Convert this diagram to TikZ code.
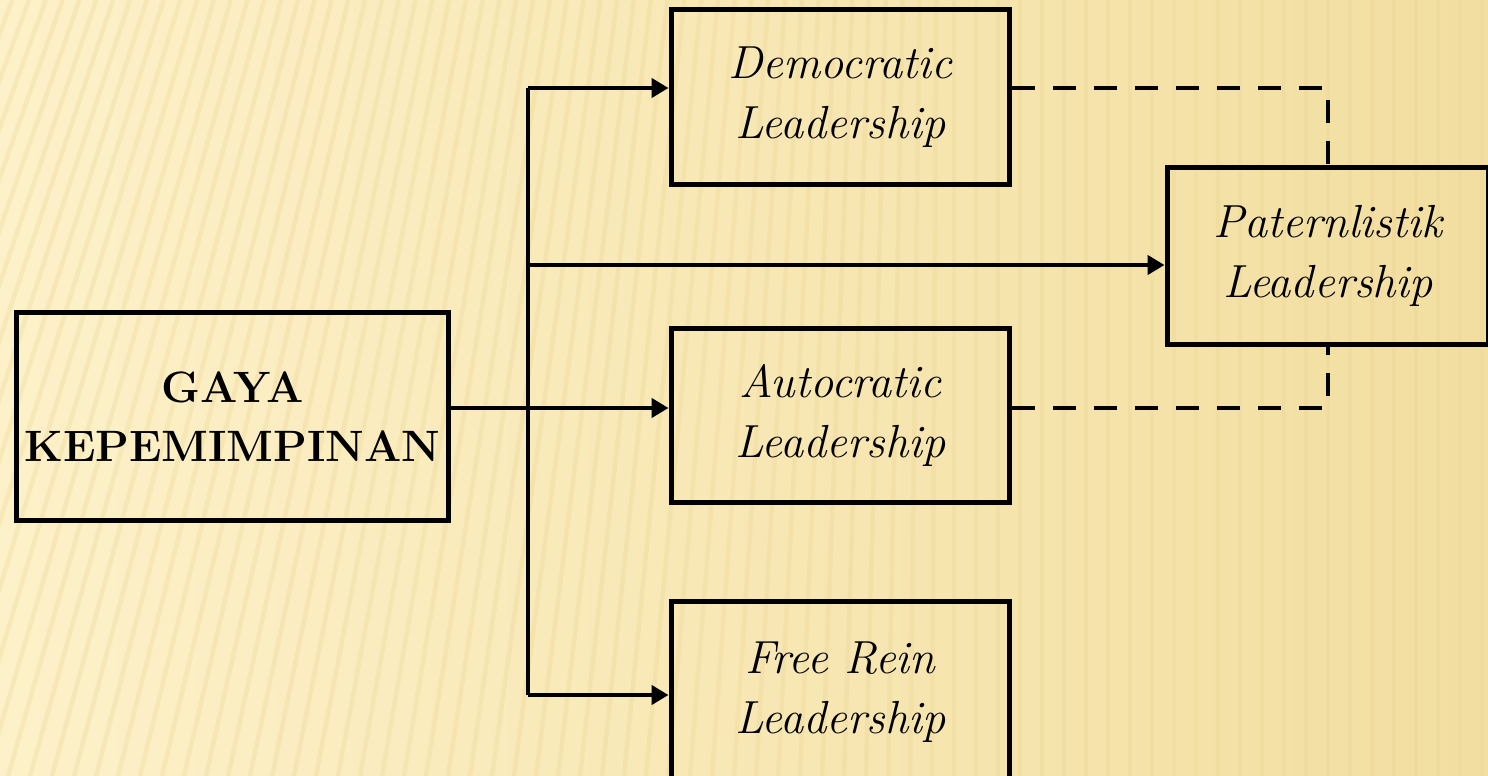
\documentclass[tikz,border=0pt]{standalone}
\usetikzlibrary{arrows.meta,calc,shadings}
\definecolor{bgA}{HTML}{FDF1C9}
\definecolor{bgC}{HTML}{F2DEA0}
\definecolor{stripe}{HTML}{EBD592}
\tikzset{
  box/.style={draw=black, line width=0.1cm, align=center, inner sep=0pt},
  lbl/.style={font=\fontsize{26.4}{34}\selectfont\itshape},
  conn/.style={line width=0.09cm, -{Triangle[length=0.34cm,width=0.38cm]}},
  plain/.style={line width=0.09cm},
  dsh/.style={line width=0.09cm, dash pattern=on 0.46cm off 0.36cm}
}
\begin{document}
\begin{tikzpicture}[x=0.02cm,y=-0.02cm]
\useasboundingbox (0,0) rectangle (1488,776);
\begin{scope}
\clip (0,0) rectangle (1488,776);
\shade[left color=bgA, right color=bgC] (0,0) rectangle (1488,776);
\foreach \x in {-300,-278,...,1500}{
  \pgfmathsetmacro{\d}{max(0,260*(1-(\x+150)/1100))}
  \draw[stripe, opacity=0.3, line width=0.09cm] (\x,776) -- (\x+\d,0);
}
\node[box, minimum width=8.66cm, minimum height=4.18cm, font=\fontsize{25}{34}\selectfont\bfseries] (gaya) at (232.5,416.5) {GAYA\\KEPEMIMPINAN};
\node[box, lbl, minimum width=6.78cm, minimum height=3.52cm] (dem) at (840.5,97) {Democratic\\Leadership};
\node[box, lbl, minimum width=6.78cm, minimum height=3.5cm] (aut) at (840.5,415.5) {Autocratic\\Leadership};
\node[box, lbl, minimum width=6.78cm, minimum height=3.64cm] (free) at (840.5,692) {Free Rein\\Leadership};
\node[box, lbl, minimum width=6.44cm, minimum height=3.56cm] (pat) at (1328,256) {Paternlistik\\Leadership};
\coordinate (t1) at (528,88);
\coordinate (t2) at (528,265);
\coordinate (t3) at (528,408);
\coordinate (t4) at (528,695);
\draw[plain] (t1) -- (t4);
\draw[conn] (gaya.east |- t3) -- (aut.west |- t3);
\draw[conn] (t1) -- (dem.west |- t1);
\draw[conn] (t2) -- (pat.west |- t2);
\draw[conn] (t4) -- (free.west |- t4);
\draw[dsh] (dem.east |- t1) -| (pat.north);
\draw[dsh] (aut.east |- t3) -| (pat.south);
\end{scope}
\end{tikzpicture}
\end{document}
